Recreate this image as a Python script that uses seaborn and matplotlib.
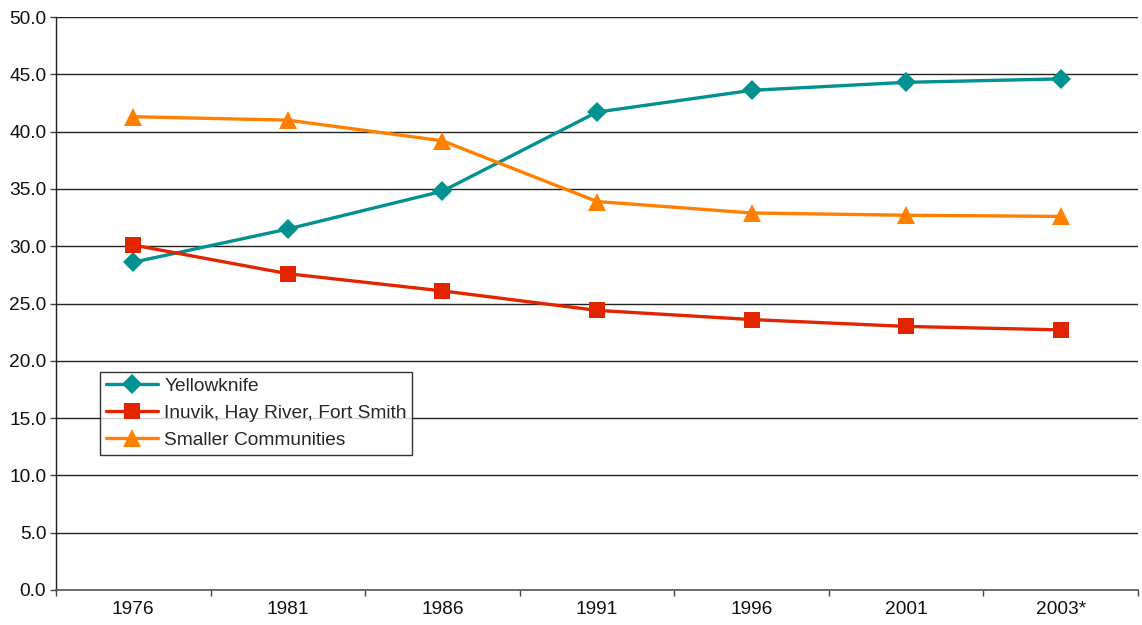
import numpy as np
import pandas as pd
import matplotlib
matplotlib.use("Agg")
import matplotlib.pyplot as plt
import seaborn as sns

# ─── Data ────────────────────────────────────────────────
years = ["1976", "1981", "1986", "1991", "1996", "2001", "2003*"]
yellowknife = [28.6, 31.5, 34.8, 41.7, 43.6, 44.3, 44.6]
regional = [30.1, 27.6, 26.1, 24.4, 23.6, 23.0, 22.7]
smaller = [41.3, 41.0, 39.2, 33.9, 32.9, 32.7, 32.6]

series_names = ["Yellowknife", "Inuvik, Hay River, Fort Smith", "Smaller Communities"]

# ─── Style ───────────────────────────────────────────────
TEAL = "#009190"
RED = "#E32400"
ORANGE = "#FF8000"
FS = 13.8
sns.set_theme(style="white")
plt.rcParams["font.family"] = ["Liberation Sans", "DejaVu Sans"]

fig = plt.figure(figsize=(11.42, 6.25), dpi=100)
ax = fig.add_axes([0.049, 0.056, 0.9475, 0.9168])

styles = [
    (yellowknife, TEAL, "D", 10),
    (regional, RED, "s", 12),
    (smaller, ORANGE, "^", 13),
]
for name, (vals, color, marker, ms) in zip(series_names, styles):
    df = pd.DataFrame({"year": years, "value": vals})
    sns.lineplot(data=df, x="year", y="value", ax=ax, color=color,
                 marker=marker, markersize=ms, markeredgewidth=0,
                 linewidth=2.4, label=name, sort=False)

# ─── Axes ────────────────────────────────────────────────
ax.set_xlim(-0.5, len(years) - 0.5)
ax.set_ylim(0, 50)
ax.set_yticks(np.arange(0, 50.1, 5))
ax.set_yticklabels([f"{v:.1f}" for v in np.arange(0, 50.1, 5)], fontsize=FS, color="#111111")
ax.set_xticks(range(len(years)))
ax.set_xticklabels(years, fontsize=FS, color="#111111")
ax.set_xticks(np.arange(-0.5, len(years), 1), minor=True)
ax.tick_params(axis="x", which="major", length=0, pad=8)
ax.tick_params(axis="x", which="minor", length=4, width=1, color="#444444", direction="out", bottom=True)
ax.tick_params(axis="y", length=4, width=1, color="#444444", direction="out", left=True, pad=3)
ax.set_xlabel("")
ax.set_ylabel("")

ax.grid(axis="y", color="#222222", linewidth=1)
ax.set_axisbelow(True)
for side in ["top", "right"]:
    ax.spines[side].set_visible(False)
ax.spines["left"].set_color("#222222")
ax.spines["bottom"].set_color("#555555")
ax.spines["left"].set_linewidth(1)
ax.spines["bottom"].set_linewidth(1.2)

leg = ax.legend(loc="upper left", bbox_to_anchor=(100 / 1142, 1 - 372 / 625),
                bbox_transform=fig.transFigure, fontsize=FS, frameon=True,
                fancybox=False, edgecolor="black", handlelength=2.75,
                handletextpad=0.3, borderpad=0.3, labelspacing=0.5,
                borderaxespad=0)
leg.get_frame().set_linewidth(1)

fig.savefig("out.png", dpi=100)
